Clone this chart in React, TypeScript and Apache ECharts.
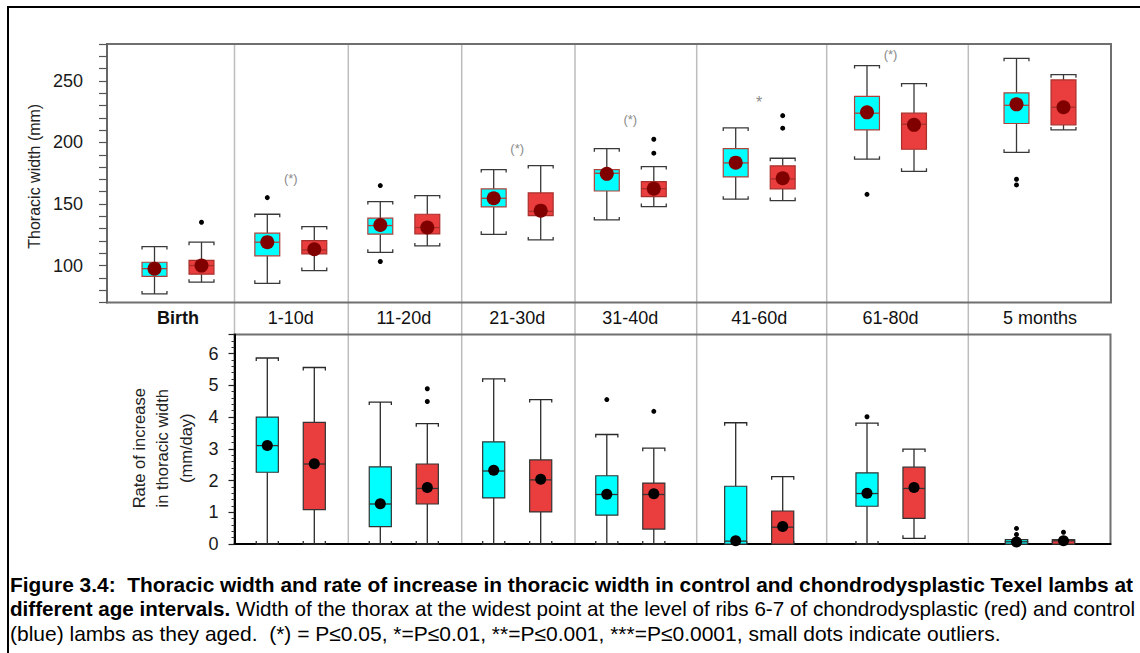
import React, { useEffect, useRef } from "react";
import * as echarts from "echarts";

// ---------- data ----------
const groups = ["Birth", "1-10d", "11-20d", "21-30d", "31-40d", "41-60d", "61-80d", "5 months"];
const pairs = ["Control", "Chondrodysplastic"];

// thoracic width (mm): [min, Q1, median, Q3, max]
const widthControl = [
  [77, 91.3, 97.5, 102.7, 115.4],
  [85.6, 107.9, 119, 126.3, 141.7],
  [110.8, 125.5, 132.5, 138.5, 152],
  [125.4, 147.7, 154.7, 162.3, 178],
  [137.1, 160.6, 175, 178, 195],
  [153.9, 172, 183.4, 195, 211.8],
  [186.4, 210.2, 223.8, 237.5, 262.5],
  [192, 215.4, 230.2, 240.3, 268.4],
];
const widthChondro = [
  [86.5, 93, 100, 104.3, 119],
  [95.9, 109.5, 112.7, 120.3, 131.7],
  [116, 125.7, 130.9, 141.7, 156.9],
  [120.8, 140.6, 144.1, 159, 181.2],
  [147.9, 156, 162.5, 168.2, 180.4],
  [152.8, 162.3, 170.4, 181, 187.2],
  [176.6, 194.5, 214.8, 223.8, 247.8],
  [210.2, 214.3, 228.6, 250.8, 255.1],
];
const widthControlMean = [97.5, 119, 133, 154.7, 174.5, 183.6, 224.5, 231];
const widthChondroMean = [100, 113.3, 130.9, 144.6, 162.5, 170.9, 214.3, 228.6];
const widthControlOutliers = [[], [155.2], [165, 103.3], [], [], [], [157.9], [170.1, 165.5]];
const widthChondroOutliers = [[135.2], [], [], [], [202.6, 191.3], [221.8, 211.6], [], []];
const widthSignificance = ["", "(*)", "", "(*)", "(*)", "*", "(*)", ""];
const widthSignificanceAt = [null, 171, null, 194.8, 218.3, 232.4, 271.1, null];
const widthTickLabels = [100, 150, 200, 250];

// rate of increase (mm/day): [min, Q1, median, Q3, max]
const rateGroups = groups.slice(1);
const rateControl = [
  [0, 2.26, 3.1, 4.0, 5.86],
  [0, 0.55, 1.26, 2.43, 4.47],
  [0, 1.45, 2.3, 3.22, 5.2],
  [0, 0.91, 1.56, 2.15, 3.45],
  [0, 0, 0.09, 1.82, 3.82],
  [0, 1.19, 1.59, 2.24, 3.81],
  [0, 0, 0.07, 0.14, 0.14],
];
const rateChondro = [
  [0, 1.08, 2.52, 3.83, 5.56],
  [0, 1.26, 1.75, 2.52, 3.79],
  [0, 1.01, 2.02, 2.65, 4.55],
  [0, 0.47, 1.56, 1.92, 3.02],
  [0, 0, 0.53, 1.04, 2.12],
  [0.18, 0.81, 1.75, 2.42, 2.99],
  [0, 0, 0.1, 0.14, 0.14],
];
const rateControlMean = [3.1, 1.27, 2.32, 1.57, 0.1, 1.6, 0.06];
const rateChondroMean = [2.53, 1.78, 2.04, 1.58, 0.55, 1.78, 0.1];
const rateControlOutliers = [[], [], [], [4.55], [], [4.01], [0.49, 0.3]];
const rateChondroOutliers = [[], [4.89, 4.49], [], [4.18], [], [], [0.37]];

const captionLines = [
  "Figure 3.4:  Thoracic width and rate of increase in thoracic width in control and chondrodysplastic Texel lambs at",
  "different age intervals.",
  " Width of the thorax at the widest point at the level of ribs 6-7 of chondrodysplastic (red) and control",
  "(blue) lambs as they aged.  (*) = P\u22640.05, *=P\u22640.01, **=P\u22640.001, ***=P\u22640.0001, small dots indicate outliers.",
];

// ---------- layout / style ----------
const FONT = "'Liberation Sans', Arial, sans-serif";
const CAP_B = "bold 21px 'Liberation Sans', Arial, sans-serif";
const CAP_N = "21px 'Liberation Sans', Arial, sans-serif";
const CYAN = "#00FFFF";
const RED = "#EA3D3D";
const TOP = { left: 107, top: 44, width: 1004, height: 258.5 };
const BOT = { left: 234.5, top: 334.5, width: 876, height: 209.5 };
const pairCenters = [178, 290.8, 403.8, 517.2, 630.3, 759.2, 890.5, 1040];
const pairSpan = 94;
const dividers = [234.5, 348.3, 461.7, 575, 696.7, 826.7, 968.3];

function boxRenderer(cfg: any) {
  return (params: any, api: any) => {
    const cat = api.value(0);
    const p = (k: number) => api.coord([cat, api.value(k)]);
    const lo = p(1), q1 = p(2), md = p(3), q3 = p(4), hi = p(5);
    const band = api.size([1, 0])[0];
    const half = (band * cfg.boxRatio) / 2;
    const x = md[0];
    const isControl = params.dataIndex === 0;
    const fill = isControl ? CYAN : RED;
    const wStyle = { stroke: cfg.whisker, lineWidth: 1.3, fill: "none" };
    const t = 3;
    return {
      type: "group",
      children: [
        { type: "line", shape: { x1: x, y1: hi[1], x2: x, y2: q3[1] }, style: wStyle },
        { type: "line", shape: { x1: x, y1: q1[1], x2: x, y2: lo[1] }, style: wStyle },
        {
          type: "polyline",
          shape: { points: [[x - half, hi[1] + t], [x - half, hi[1]], [x + half, hi[1]], [x + half, hi[1] + t]] },
          style: wStyle,
        },
        {
          type: "polyline",
          shape: { points: [[x - half, lo[1] - t], [x - half, lo[1]], [x + half, lo[1]], [x + half, lo[1] - t]] },
          style: wStyle,
        },
        {
          type: "rect",
          shape: { x: x - half, y: q3[1], width: half * 2, height: Math.max(q1[1] - q3[1], 1) },
          style: { fill, stroke: isControl ? cfg.boxStrokeC : cfg.boxStrokeR, lineWidth: 1.2 },
        },
        {
          type: "line",
          shape: { x1: x - half, y1: md[1], x2: x + half, y2: md[1] },
          style: { stroke: isControl ? cfg.boxStrokeC : cfg.boxStrokeR, lineWidth: 1.3 },
        },
      ],
    };
  };
}

function sigRenderer(text: string) {
  return (params: any, api: any) => {
    const v = api.value(1);
    const a = api.coord([0, v]);
    const b = api.coord([1, v]);
    return {
      type: "text",
      x: (a[0] + b[0]) / 2,
      y: a[1],
      style: {
        text,
        align: "center",
        verticalAlign: "middle",
        font: (text === "*" ? "16px" : "13px") + " 'Liberation Sans', Arial, sans-serif",
        fill: "#8a8a8a",
      },
    };
  };
}

function buildOption() {
  const grid: any[] = [];
  const xAxis: any[] = [];
  const yAxis: any[] = [];
  const series: any[] = [];

  // frame grids
  grid.push({ ...TOP, show: true, borderColor: "#6f6f6f", borderWidth: 2 });
  grid.push({ ...BOT, show: true, borderColor: "#6f6f6f", borderWidth: 2 });
  xAxis.push({ gridIndex: 0, type: "value", min: 0, max: 1, show: false });
  xAxis.push({
    gridIndex: 1, type: "value", min: 0, max: 1, show: true,
    axisLine: { show: true, lineStyle: { color: "#000", width: 2 } },
    axisTick: { show: false }, axisLabel: { show: false }, splitLine: { show: false },
  });
  yAxis.push({
    gridIndex: 0, type: "value", min: 70, max: 280, interval: 10,
    name: "Thoracic width (mm)", nameLocation: "middle", nameRotate: 90, nameGap: 54,
    nameTextStyle: { fontSize: 16, color: "#222", fontFamily: FONT, padding: [0, 6, 0, 0] },
    axisLine: { show: true, lineStyle: { color: "#666", width: 2 } },
    axisTick: { show: true, length: 8, lineStyle: { color: "#555", width: 1.2 } },
    axisLabel: {
      fontSize: 18, color: "#1a1a1a", fontFamily: FONT, margin: 24,
      formatter: (v: number) => (widthTickLabels.includes(v) ? String(v) : ""),
    },
    splitLine: { show: false },
  });
  yAxis.push({
    gridIndex: 1, type: "value", min: 0, max: 6.6, interval: 1,
    name: "Rate of increase\nin thoracic width\n(mm/day)", nameLocation: "middle", nameRotate: 90, nameGap: 35,
    nameTextStyle: { fontSize: 16.5, lineHeight: 23.5, color: "#222", fontFamily: FONT, padding: [0, 18, 0, 0] },
    axisLine: { show: true, lineStyle: { color: "#000", width: 2 } },
    axisTick: { show: true, length: 6, lineStyle: { color: "#222", width: 1.2 } },
    minorTick: { show: true, splitNumber: 5, length: 3, lineStyle: { color: "#333", width: 1 } },
    axisLabel: {
      fontSize: 18, color: "#1a1a1a", fontFamily: FONT, margin: 16,
      formatter: (v: number) => (Number.isInteger(v) ? String(v) : ""),
    },
    splitLine: { show: false },
  });

  const topCfg = { boxRatio: 0.53, whisker: "#383838", boxStrokeC: "#b0403a", boxStrokeR: "#a8302c" };
  const botCfg = { boxRatio: 0.47, whisker: "#2a2a2a", boxStrokeC: "#333", boxStrokeR: "#333" };

  const addPanel = (
    label: string | null, center: number, frame: any, yMin: number, yMax: number,
    ctrl: number[], chon: number[], mC: number, mR: number, oC: number[], oR: number[],
    cfg: any, meanColor: string, meanSize: number, sig: string, sigAt: number | null, bold: boolean
  ) => {
    const gi = grid.length;
    grid.push({ left: center - pairSpan / 2, width: pairSpan, top: frame.top, height: frame.height, show: false });
    xAxis.push({
      gridIndex: gi, type: "category", data: pairs, boundaryGap: true,
      axisLine: { show: false }, axisTick: { show: false }, axisLabel: { show: false }, splitLine: { show: false },
      name: label || "", nameLocation: "middle", nameGap: 6,
      nameTextStyle: { fontSize: 18, color: "#111", fontFamily: FONT, fontWeight: bold ? "bold" : "normal" },
    });
    yAxis.push({ gridIndex: gi, type: "value", min: yMin, max: yMax, show: false });
    series.push({
      type: "custom", xAxisIndex: gi, yAxisIndex: gi, clip: false,
      renderItem: boxRenderer(cfg),
      encode: { x: 0, y: [1, 2, 3, 4, 5] },
      data: [[pairs[0], ...ctrl], [pairs[1], ...chon]],
      z: 2,
    });
    series.push({
      type: "scatter", xAxisIndex: gi, yAxisIndex: gi, symbolSize: 5, z: 3,
      itemStyle: { color: "#000", opacity: 1 },
      data: [...oC.map((v) => [pairs[0], v]), ...oR.map((v) => [pairs[1], v])],
    });
    series.push({
      type: "scatter", xAxisIndex: gi, yAxisIndex: gi, symbolSize: meanSize, z: 4,
      itemStyle: { color: meanColor, opacity: 1 },
      data: [[pairs[0], mC], [pairs[1], mR]],
    });
    if (sig && sigAt != null) {
      series.push({
        type: "custom", xAxisIndex: gi, yAxisIndex: gi, clip: false, z: 4,
        renderItem: sigRenderer(sig),
        encode: { x: 0, y: 1 },
        data: [[pairs[0], sigAt]],
      });
    }
  };

  groups.forEach((g, i) => {
    addPanel(g, pairCenters[i], TOP, 70, 280, widthControl[i], widthChondro[i], widthControlMean[i], widthChondroMean[i],
      widthControlOutliers[i], widthChondroOutliers[i], topCfg, "#800000", 14, widthSignificance[i], widthSignificanceAt[i], i === 0);
  });
  rateGroups.forEach((g, i) => {
    addPanel(null, pairCenters[i + 1], BOT, 0, 6.6, rateControl[i], rateChondro[i], rateControlMean[i], rateChondroMean[i],
      rateControlOutliers[i], rateChondroOutliers[i], botCfg, "#000", 11, "", null, false);
  });

  const graphic: any[] = [
    { type: "rect", z: 0, shape: { x: 8, y: 7, width: 1200, height: 700 }, style: { fill: "none", stroke: "#000", lineWidth: 2 } },
    ...dividers.map((x, i) => ({
      type: "line", z: -1,
      shape: { x1: x, y1: TOP.top, x2: x, y2: i === 0 ? BOT.top : BOT.top + BOT.height },
      style: { stroke: "#bdbdbd", lineWidth: 1.5 },
    })),
    {
      type: "text", x: 10, y: 584, scaleX: 0.995,
      style: { text: captionLines[0], font: CAP_B, fill: "#000", verticalAlign: "middle" },
    },
    {
      type: "text", x: 10, y: 608.5, scaleX: 0.983,
      style: {
        text: "{b|" + captionLines[1] + "}{n|" + captionLines[2] + "}",
        verticalAlign: "middle",
        rich: {
          b: { font: CAP_B, fill: "#000" },
          n: { font: CAP_N, fill: "#000" },
        },
      },
    },
    {
      type: "text", x: 10, y: 633,
      style: { text: captionLines[3], font: CAP_N, fill: "#000", verticalAlign: "middle" },
    },
  ];

  return { animation: false, backgroundColor: "#fff", grid, xAxis, yAxis, series, graphic };
}

export default function App() {
  const ref = useRef<HTMLDivElement>(null);
  useEffect(() => {
    if (!ref.current) return;
    const chart = echarts.init(ref.current, undefined, { renderer: "svg" });
    chart.setOption(buildOption() as any);
    return () => chart.dispose();
  }, []);
  return <div ref={ref} style={{ position: "absolute", left: 0, top: 0, width: 1140, height: 653 }} />;
}
